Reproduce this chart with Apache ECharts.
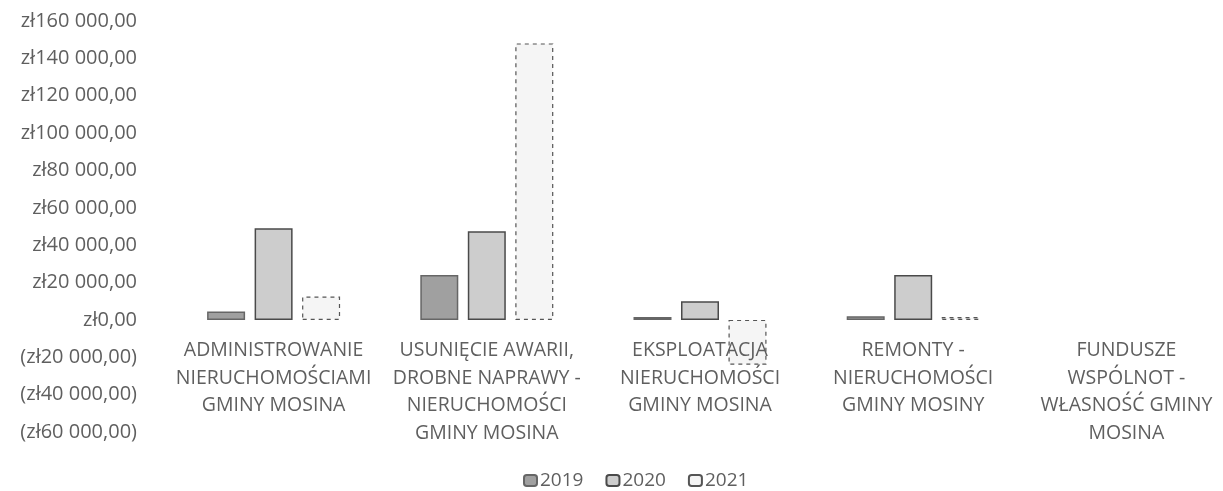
<!DOCTYPE html>
<html>
<head>
<meta charset="utf-8">
<script src="https://cdn.jsdelivr.net/npm/echarts@6/dist/echarts.min.js"></script>
<style>html,body{margin:0;padding:0;background:#fff}#c{width:1223px;height:491px}</style>
</head>
<body>
<div id="c"></div>
<script>
const categories = [
  "ADMINISTROWANIE\nNIERUCHOMOŚCIAMI\nGMINY MOSINA",
  "USUNIĘCIE AWARII,\nDROBNE NAPRAWY -\nNIERUCHOMOŚCI\nGMINY MOSINA",
  "EKSPLOATACJA\nNIERUCHOMOŚCI\nGMINY MOSINA",
  "REMONTY -\nNIERUCHOMOŚCI\nGMINY MOSINY",
  "FUNDUSZE\nWSPÓLNOT -\nWŁASNOŚĆ GMINY\nMOSINA"
];
const seriesNames = ["2019", "2020", "2021"];
const values2019 = [4500, 24000, 1500, 2000, null];
const values2020 = [49000, 47500, 10000, 24000, null];
const values2021 = [12500, 148000, -24000, 1500, null];
const yMin = -60000, yMax = 160000, yStep = 20000;

function fmt(v) {
  const a = Math.abs(v);
  const s = String(Math.round(a)).replace(/\B(?=(\d{3})+(?!\d))/g, " ");
  const t = "zł" + s + ",00";
  return v < 0 ? "(" + t + ")" : t;
}

const H = 491, TOP = 21, BOTTOM = 59;
const plotH = H - TOP - BOTTOM;
// distance from bottom of plot to the zero line (labels sit under zero, as in the original)
const zeroLift = plotH * (0 - yMin) / (yMax - yMin);

const FONT = "Open Sans";
const TXT = "#5f5f5f";
const chart = echarts.init(document.getElementById("c"));
chart.setOption({
  animation: false,
  textStyle: { fontFamily: FONT },
  grid: { left: 167, right: -10, top: TOP, bottom: BOTTOM, outerBoundsMode: "none" },
  legend: {
    top: 466, left: 518,
    itemWidth: 13, itemHeight: 11, itemGap: 22,
    textStyle: { fontFamily: FONT, fontSize: 19, color: TXT, padding: [0, 0, 0, -2] },
    data: seriesNames
  },
  xAxis: {
    type: "category",
    data: categories,
    offset: -zeroLift,
    z: 5,
    axisLine: { show: false, onZero: false },
    axisTick: { show: false },
    axisLabel: { fontFamily: FONT, fontSize: 19.5, color: TXT, lineHeight: 27.5, margin: 17, interval: 0 }
  },
  yAxis: {
    type: "value",
    min: yMin, max: yMax, interval: yStep,
    axisLine: { show: false },
    axisTick: { show: false },
    splitLine: { show: false },
    axisLabel: { fontFamily: FONT, fontSize: 20, color: TXT, margin: 30, formatter: fmt }
  },
  series: [
    { name: seriesNames[0], type: "bar", data: values2019, barWidth: 38, barGap: "25%",
      itemStyle: { color: "#a0a0a0", borderColor: "#666666", borderWidth: 1.5 } },
    { name: seriesNames[1], type: "bar", data: values2020, barWidth: 38, barGap: "25%",
      itemStyle: { color: "#cdcdcd", borderColor: "#4a4a4a", borderWidth: 1.5 } },
    { name: seriesNames[2], type: "bar", data: values2021, barWidth: 38, barGap: "25%",
      itemStyle: { color: "rgba(225,225,225,0.35)", borderColor: "#555555", borderWidth: 1.2, borderType: [4, 4] } }
  ]
});
</script>
</body>
</html>
